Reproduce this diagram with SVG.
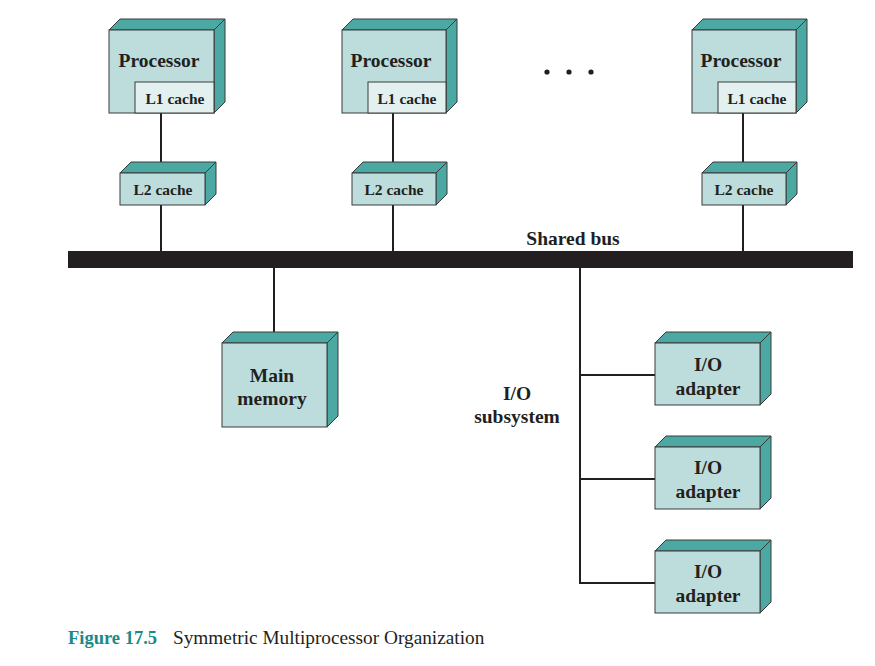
<svg xmlns="http://www.w3.org/2000/svg" width="875" height="666" viewBox="0 0 875 666">
<defs>
<style>
.front{fill:#bddcdc;stroke:#3a3a3a;stroke-width:1}
.side{fill:#4ca8a2;stroke:#3a3a3a;stroke-width:1}
.l1{fill:#e2f0f0;stroke:#3a3a3a;stroke-width:1}
.conn{stroke:#231f20;stroke-width:2;fill:none}
.lbl{font-family:"Liberation Serif","Times New Roman",serif;font-weight:bold;fill:#231f20;text-anchor:middle}
.big{font-size:19.5px}
.small{font-size:15.5px}
</style>
</defs>
<rect x="0" y="0" width="875" height="666" fill="#ffffff"/>

<g id="connectors">
<line class="conn" x1="161" y1="113" x2="161" y2="173"/>
<line class="conn" x1="161" y1="205" x2="161" y2="252"/>
<line class="conn" x1="393" y1="113" x2="393" y2="173"/>
<line class="conn" x1="393" y1="205" x2="393" y2="252"/>
<line class="conn" x1="743" y1="113" x2="743" y2="173"/>
<line class="conn" x1="743" y1="205" x2="743" y2="252"/>
<line class="conn" x1="274" y1="267" x2="274" y2="343"/>
<line class="conn" x1="580" y1="267" x2="580" y2="584"/>
<line class="conn" x1="579" y1="375" x2="655" y2="375"/>
<line class="conn" x1="579" y1="479" x2="655" y2="479"/>
<line class="conn" x1="579" y1="583" x2="655" y2="583"/>
</g>

<g id="shared-bus">
<rect x="68" y="251" width="785" height="17" fill="#231f20"/>
<text class="lbl big" x="573" y="245">Shared bus</text>
</g>

<g id="processor-1">
<polygon class="side" points="109,30 120,19 225,19 214,30"/>
<polygon class="side" points="214,30 225,19 225,102 214,113"/>
<rect class="front" x="109" y="30" width="105" height="83"/>
<rect class="l1" x="135" y="82" width="79" height="31"/>
<text class="lbl big" x="159" y="67">Processor</text>
<text class="lbl small" x="175" y="104">L1 cache</text>
</g>
<g id="l2-cache-1">
<polygon class="side" points="120,173 131,162 216,162 205,173"/>
<polygon class="side" points="205,173 216,162 216,194 205,205"/>
<rect class="front" x="120" y="173" width="85" height="32"/>
<text class="lbl small" x="163" y="195">L2 cache</text>
</g>

<g id="processor-2">
<polygon class="side" points="342,30 353,19 457,19 446,30"/>
<polygon class="side" points="446,30 457,19 457,102 446,113"/>
<rect class="front" x="342" y="30" width="104" height="83"/>
<rect class="l1" x="368" y="82" width="78" height="31"/>
<text class="lbl big" x="391" y="67">Processor</text>
<text class="lbl small" x="407" y="104">L1 cache</text>
</g>
<g id="l2-cache-2">
<polygon class="side" points="352,173 363,162 447,162 436,173"/>
<polygon class="side" points="436,173 447,162 447,194 436,205"/>
<rect class="front" x="352" y="173" width="84" height="32"/>
<text class="lbl small" x="394" y="195">L2 cache</text>
</g>

<g id="ellipsis">
<circle cx="547" cy="72" r="2.6" fill="#231f20"/>
<circle cx="569" cy="72" r="2.6" fill="#231f20"/>
<circle cx="591" cy="72" r="2.6" fill="#231f20"/>
</g>

<g id="processor-3">
<polygon class="side" points="692,30 703,19 807,19 796,30"/>
<polygon class="side" points="796,30 807,19 807,102 796,113"/>
<rect class="front" x="692" y="30" width="104" height="83"/>
<rect class="l1" x="718" y="82" width="78" height="31"/>
<text class="lbl big" x="741" y="67">Processor</text>
<text class="lbl small" x="757" y="104">L1 cache</text>
</g>
<g id="l2-cache-3">
<polygon class="side" points="702,173 713,162 797,162 786,173"/>
<polygon class="side" points="786,173 797,162 797,194 786,205"/>
<rect class="front" x="702" y="173" width="84" height="32"/>
<text class="lbl small" x="744" y="195">L2 cache</text>
</g>

<g id="main-memory">
<polygon class="side" points="222,343 233,332 338,332 327,343"/>
<polygon class="side" points="327,343 338,332 338,416 327,427"/>
<rect class="front" x="222" y="343" width="105" height="84"/>
<text class="lbl big" x="272" y="382">Main</text>
<text class="lbl big" x="272" y="405">memory</text>
</g>

<g id="io-subsystem-label">
<text class="lbl big" x="517" y="400">I/O</text>
<text class="lbl big" x="517" y="423">subsystem</text>
</g>

<g id="io-adapter-1">
<polygon class="side" points="655,343 666,332 771,332 760,343"/>
<polygon class="side" points="760,343 771,332 771,394 760,405"/>
<rect class="front" x="655" y="343" width="105" height="62"/>
<text class="lbl big" x="708" y="371">I/O</text>
<text class="lbl big" x="708" y="395">adapter</text>
</g>

<g id="io-adapter-2">
<polygon class="side" points="655,447 666,436 771,436 760,447"/>
<polygon class="side" points="760,447 771,436 771,498 760,509"/>
<rect class="front" x="655" y="447" width="105" height="62"/>
<text class="lbl big" x="708" y="474">I/O</text>
<text class="lbl big" x="708" y="498">adapter</text>
</g>

<g id="io-adapter-3">
<polygon class="side" points="655,551 666,540 771,540 760,551"/>
<polygon class="side" points="760,551 771,540 771,602 760,613"/>
<rect class="front" x="655" y="551" width="105" height="62"/>
<text class="lbl big" x="708" y="578">I/O</text>
<text class="lbl big" x="708" y="602">adapter</text>
</g>

<g id="caption">
<text x="68" y="644" font-family="'Liberation Serif','Times New Roman',serif" font-size="18.5px" font-weight="bold" fill="#1a8a88">Figure 17.5</text>
<text x="173" y="644" font-family="'Liberation Serif','Times New Roman',serif" font-size="19.3px" fill="#231f20">Symmetric Multiprocessor Organization</text>
</g>
</svg>
